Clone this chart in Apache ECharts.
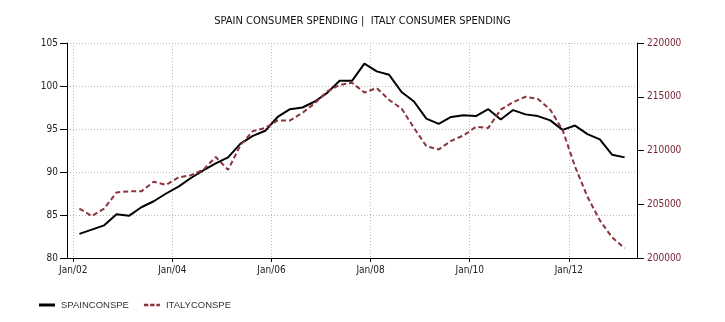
<!DOCTYPE html>
<html><head><meta charset="utf-8">
<script src="https://cdn.jsdelivr.net/npm/echarts@6/dist/echarts.min.js"></script>
<style>html,body{margin:0;padding:0;background:#fff}#c{width:725px;height:322px}</style>
</head><body><div id="c"></div>
<script>
const quarters = ['2002Q1','2002Q2','2002Q3','2002Q4','2003Q1','2003Q2','2003Q3','2003Q4',
  '2004Q1','2004Q2','2004Q3','2004Q4','2005Q1','2005Q2','2005Q3','2005Q4',
  '2006Q1','2006Q2','2006Q3','2006Q4','2007Q1','2007Q2','2007Q3','2007Q4',
  '2008Q1','2008Q2','2008Q3','2008Q4','2009Q1','2009Q2','2009Q3','2009Q4',
  '2010Q1','2010Q2','2010Q3','2010Q4','2011Q1','2011Q2','2011Q3','2011Q4',
  '2012Q1','2012Q2','2012Q3','2012Q4','2013Q1'];
const spain = [82.8,83.3,83.8,85.1,84.9,85.9,86.6,87.5,88.3,89.3,90.2,91.0,91.7,93.3,94.2,94.8,
  96.4,97.3,97.5,98.2,99.2,100.6,100.6,102.6,101.7,101.3,99.3,98.2,96.2,95.6,96.4,96.6,
  96.5,97.3,96.1,97.2,96.7,96.5,96.0,94.9,95.4,94.4,93.8,92.0,91.7];
const italy = [204600,203900,204600,206100,206200,206200,207100,206800,207500,207700,208200,209400,
  208200,210500,211800,212100,212800,212800,213500,214400,215500,216100,216300,215400,
  215800,214700,213900,212100,210400,210100,210900,211400,212200,212100,213800,214500,
  215000,214800,213800,211900,208500,205700,203500,201900,200900];
const xTickYears = [2002,2004,2006,2008,2010,2012];
const xTickLabels = ['Jan/02','Jan/04','Jan/06','Jan/08','Jan/10','Jan/12'];
const titleText = 'SPAIN CONSUMER SPENDING |  ITALY CONSUMER SPENDING';
const seriesNames = ['SPAINCONSPE','ITALYCONSPE'];

function qToX(q){ const y=+q.slice(0,4), n=+q.slice(5); return y + ((n-1)*3 + 1.5)/12; }
const spainData = quarters.map((q,i)=>[qToX(q), spain[i]]);
const italyData = quarters.map((q,i)=>[qToX(q), italy[i]]);

const FONT = 'DejaVu Sans Condensed, DejaVu Sans, sans-serif';
const SPAIN_COLOR = '#000';
const ITALY_COLOR = '#8a343c';
const chart = echarts.init(document.getElementById('c'), null, {renderer:'canvas'});
chart.setOption({
  animation:false,
  backgroundColor:'#fff',
  title:{text:titleText,left:'center',top:11,textStyle:{fontFamily:FONT,fontSize:11,fontWeight:'normal',color:'#111'}},
  legend:{show:true,orient:'horizontal',left:34,bottom:7,itemWidth:16,itemHeight:3,itemGap:15,
    textStyle:{fontFamily:'Liberation Sans, Arial, sans-serif',fontSize:9.5,color:'#333',padding:[0,0,0,1]},
    data:[
      {name:seriesNames[0],icon:'path://M0,0h16v3h-16z',itemStyle:{color:SPAIN_COLOR}},
      {name:seriesNames[1],icon:'path://M0,0h5v3h-5z M7,0h5v3h-5z M14,0h4v3h-4z',itemStyle:{color:ITALY_COLOR}}
    ]},
  grid:{left:67,right:88,top:43,bottom:64,containLabel:false},
  xAxis:{type:'value',min:2001.875,max:2013.375,
    axisLine:{show:true,lineStyle:{color:'#000',width:1}},
    axisTick:{show:true,length:4,lineStyle:{color:'#000'},customValues:xTickYears},
    axisLabel:{customValues:xTickYears,margin:7,fontFamily:FONT,fontSize:10,color:'#222',
      formatter:v=>{const i=xTickYears.indexOf(Math.round(v));return i>=0?xTickLabels[i]:'';}},
    splitLine:{show:true,lineStyle:{color:'#bbb',type:[1,2],width:1}}},
  yAxis:[
    {type:'value',min:80,max:105,interval:5,position:'left',
      axisLine:{show:true,lineStyle:{color:'#000'}},
      axisTick:{show:true,length:7,lineStyle:{color:'#000'}},
      axisLabel:{margin:9,fontFamily:FONT,fontSize:10,color:'#222',formatter:v=>String(v)},
      splitLine:{show:true,lineStyle:{color:'#bbb',type:[1,2],width:1}}},
    {type:'value',min:200000,max:220000,interval:5000,position:'right',
      axisLine:{show:true,lineStyle:{color:'#000'}},
      axisTick:{show:true,length:7,lineStyle:{color:'#000'}},
      axisLabel:{margin:10,fontFamily:FONT,fontSize:10,color:'#7a2535',formatter:v=>String(v)},
      splitLine:{show:false}}
  ],
  series:[
    {name:seriesNames[0],type:'line',yAxisIndex:0,data:spainData,symbol:'none',
      lineStyle:{color:SPAIN_COLOR,width:2},itemStyle:{color:SPAIN_COLOR}},
    {name:seriesNames[1],type:'line',yAxisIndex:1,data:italyData,symbol:'none',
      lineStyle:{color:ITALY_COLOR,width:2,type:[5,3]},itemStyle:{color:ITALY_COLOR}}
  ]
});
</script></body></html>
